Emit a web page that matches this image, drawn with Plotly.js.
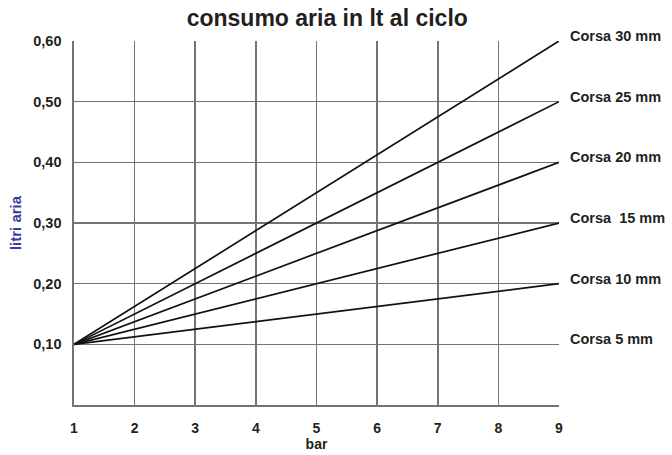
<!DOCTYPE html>
<html>
<head>
<meta charset="utf-8">
<script src="https://cdn.plot.ly/plotly-3.0.1.min.js"></script>
<style>html,body{margin:0;padding:0;background:#fff}#chart{width:672px;height:455px}</style>
</head>
<body>
<div id="chart"></div>
<script>
const pressureBar = [1, 9];
const seriesNames = ["Corsa 30 mm", "Corsa 25 mm", "Corsa 20 mm", "Corsa  15 mm", "Corsa 10 mm"];
const corsa30 = [0.10, 0.60];
const corsa25 = [0.10, 0.50];
const corsa20 = [0.10, 0.40];
const corsa15 = [0.10, 0.30];
const corsa10 = [0.10, 0.20];
const corsa5Label = "Corsa 5 mm";
const corsa5Value = 0.10;
const xTicks = [1, 2, 3, 4, 5, 6, 7, 8, 9];
const yTickVals = [0.10, 0.20, 0.30, 0.40, 0.50, 0.60];
const yTickText = ["0,10", "0,20", "0,30", "0,40", "0,50", "0,60"];

const seriesValues = [corsa30, corsa25, corsa20, corsa15, corsa10];
const F = "Liberation Sans, Arial, sans-serif";
const txt = "#231f20";
const grid = "#737373";

const traces = seriesValues.map((v, i) => ({
  x: pressureBar, y: v, type: "scatter", mode: "lines",
  name: seriesNames[i], line: {color: "#111", width: 1.7}, hoverinfo: "skip"
}));

const labelFont = {family: F, size: 14.5, color: txt, weight: "bold"};
const annotations = seriesValues.map((v, i) => ({
  x: pressureBar[1], y: v[1], xref: "x", yref: "y", text: seriesNames[i],
  showarrow: false, xanchor: "left", yanchor: "middle", xshift: 9, yshift: 5,
  font: labelFont
}));
annotations.push({
  x: pressureBar[1], y: corsa5Value, xref: "x", yref: "y", text: corsa5Label,
  showarrow: false, xanchor: "left", yanchor: "middle", xshift: 9, yshift: 5,
  font: labelFont
});

const layout = {
  width: 672, height: 455,
  margin: {l: 74, r: 113, t: 41, b: 50},
  paper_bgcolor: "#fff", plot_bgcolor: "#fff",
  showlegend: false,
  title: {text: "consumo aria in lt al ciclo", x: 0.487, xanchor: "center", y: 0.96, yanchor: "middle",
    font: {family: F, size: 23, color: txt, weight: "bold"}},
  xaxis: {
    range: [1, 9], tickmode: "array", tickvals: xTicks, ticktext: xTicks.map(String),
    showgrid: true, gridcolor: grid, gridwidth: 1.6, zeroline: false,
    showline: true, linecolor: grid, linewidth: 1.6,
    ticks: "outside", ticklen: 10, tickcolor: "rgba(0,0,0,0)",
    tickfont: {family: F, size: 14, color: txt, weight: "bold"},
    title: {text: "bar", standoff: 3, font: {family: F, size: 14, color: txt, weight: "bold"}}
  },
  yaxis: {
    range: [0, 0.6], tickmode: "array", tickvals: yTickVals, ticktext: yTickText,
    showgrid: true, gridcolor: grid, gridwidth: 1.6, zeroline: false,
    showline: true, linecolor: grid, linewidth: 1.6,
    ticks: "outside", ticklen: 8, tickcolor: "rgba(0,0,0,0)",
    tickfont: {family: F, size: 14.5, color: txt, weight: "bold"},
    title: {text: "litri aria", standoff: 8, font: {family: F, size: 15, color: "#3b3b9c", weight: "bold"}}
  },
  annotations: annotations
};

Plotly.newPlot("chart", traces, layout, {displayModeBar: false, staticPlot: true});
</script>
</body>
</html>
